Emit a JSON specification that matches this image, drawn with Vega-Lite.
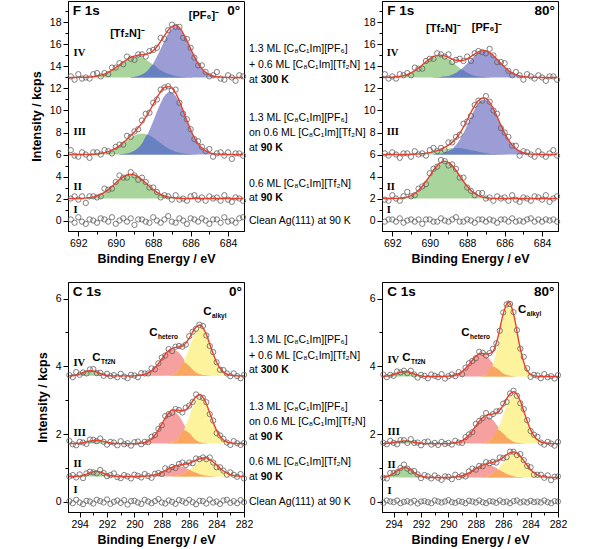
{
"$schema":"https://vega.github.io/schema/vega-lite/v6.json",
"padding":{"left":29,"top":0,"right":2,"bottom":0},
"background":"white",
"config":{
"view":{"stroke":"#000","strokeWidth":1},
"font":"Liberation Sans",
"axis":{"labelFont":"Liberation Sans","labelFontSize":10.5,"labelColor":"#000","labelFlush":false,"titleFont":"Liberation Sans","titleFontSize":12.5,"titleFontWeight":"bold","titleColor":"#000","tickColor":"#000","domainColor":"#000","grid":false,"tickSize":5,"labelPadding":2},
"axisX":{"titlePadding":4},
"axisY":{"titlePadding":6},
"text":{"color":"#000"}
},
"datasets":{
"pTL":[
{"e":692.4,"I":0.1,"II":2.0,"III":6.4,"IV":13.1},{"e":692.2,"I":-0.2,"II":2.2,"III":5.9,"IV":12.8},{"e":692.0,"I":0.3,"II":1.9,"III":5.8,"IV":13.3},{"e":691.8,"I":-0.1,"II":2.2,"III":6.2,"IV":12.9},{"e":691.6,"I":-0.3,"II":1.6,"III":6.0,"IV":13.0},{"e":691.4,"I":0.1,"II":2.2,"III":5.7,"IV":12.9},{"e":691.2,"I":0,"II":2.2,"III":6.2,"IV":13.3},{"e":691.0,"I":-0.2,"II":2.1,"III":6.2,"IV":13.4},{"e":690.8,"I":0.2,"II":2.2,"III":6.0,"IV":13.1},{"e":690.6,"I":0.1,"II":2.9,"III":6.4,"IV":13.4},{"e":690.4,"I":-0.1,"II":2.8,"III":6.3,"IV":13.3},{"e":690.2,"I":0.3,"II":2.9,"III":6.1,"IV":13.9},{"e":690.0,"I":-0.3,"II":3.5,"III":6.7,"IV":13.9},{"e":689.8,"I":0,"II":4.1,"III":6.9,"IV":14.3},{"e":689.6,"I":0.2,"II":3.9,"III":6.9,"IV":14.2},{"e":689.4,"I":-0.1,"II":3.9,"III":7.7,"IV":14.9},{"e":689.2,"I":0.2,"II":4.4,"III":7.6,"IV":14.7},{"e":689.0,"I":-0.4,"II":4.1,"III":8.1,"IV":14.6},{"e":688.8,"I":0.1,"II":3.7,"III":8.3,"IV":15.1},{"e":688.6,"I":0.1,"II":3.9,"III":9.1,"IV":15.1},{"e":688.4,"I":-0.1,"II":3.5,"III":9.7,"IV":14.9},{"e":688.2,"I":-0.2,"II":3.0,"III":9.8,"IV":15.4},{"e":688.0,"I":0.3,"II":3.0,"III":10.7,"IV":15.5},{"e":687.8,"I":0,"II":2.6,"III":11.0,"IV":15.7},{"e":687.6,"I":-0.2,"II":2.1,"III":11.9,"IV":16.6},{"e":687.4,"I":0.1,"II":2.3,"III":12.1,"IV":16.5},{"e":687.2,"I":0.4,"II":2.2,"III":12.2,"IV":17.3},{"e":687.0,"I":-0.1,"II":1.9,"III":11.8,"IV":17.8},{"e":686.8,"I":-0.2,"II":2.3,"III":11.9,"IV":17.6},{"e":686.6,"I":0.2,"II":1.9,"III":10.7,"IV":17.6},{"e":686.4,"I":0,"II":2.0,"III":9.7,"IV":16.6},{"e":686.2,"I":-0.3,"II":1.8,"III":9.2,"IV":16.5},{"e":686.0,"I":0.2,"II":2.2,"III":8.3,"IV":15.7},{"e":685.8,"I":0.1,"II":2.3,"III":7.4,"IV":14.8},{"e":685.6,"I":-0.1,"II":1.9,"III":7.2,"IV":14.1},{"e":685.4,"I":0.2,"II":2.1,"III":6.7,"IV":14.1},{"e":685.2,"I":0,"II":1.8,"III":6.3,"IV":13.5},{"e":685.0,"I":-0.3,"II":2.2,"III":6.5,"IV":13.1},{"e":684.8,"I":0.1,"II":2.0,"III":5.8,"IV":13.2},{"e":684.6,"I":0.1,"II":2.1,"III":6.1,"IV":13.5},{"e":684.4,"I":-0.2,"II":1.8,"III":6.2,"IV":12.9},{"e":684.2,"I":0.3,"II":2.3,"III":5.9,"IV":12.8},{"e":684.0,"I":-0.1,"II":1.9,"III":6.2,"IV":13.2},{"e":683.8,"I":0,"II":1.7,"III":5.6,"IV":13.0},{"e":683.6,"I":-0.2,"II":2.1,"III":6.1,"IV":12.7},{"e":683.4,"I":0.2,"II":2.0,"III":6.1,"IV":13.2},{"e":683.2,"I":0.3,"II":1.8,"III":5.9,"IV":13.1}
],
"pTR":[
{"e":692.4,"I":-0.1,"II":1.9,"III":6.1,"IV":13.3},{"e":692.2,"I":0.1,"II":1.8,"III":5.9,"IV":12.9},{"e":692.0,"I":0.1,"II":2.3,"III":6.2,"IV":13.1},{"e":691.8,"I":-0.1,"II":2.0,"III":6.0,"IV":12.9},{"e":691.6,"I":0.2,"II":1.8,"III":5.7,"IV":13.3},{"e":691.4,"I":-0.2,"II":2.2,"III":6.1,"IV":13.2},{"e":691.2,"I":0,"II":2.6,"III":6.1,"IV":13.4},{"e":691.0,"I":0.1,"II":2.2,"III":5.8,"IV":13.2},{"e":690.8,"I":-0.1,"II":2.3,"III":6.3,"IV":13.9},{"e":690.6,"I":0.1,"II":2.9,"III":6.0,"IV":13.8},{"e":690.4,"I":-0.3,"II":3.1,"III":6.1,"IV":13.8},{"e":690.2,"I":0.1,"II":3.3,"III":5.9,"IV":14.5},{"e":690.0,"I":0.1,"II":4.3,"III":6.4,"IV":14.7},{"e":689.8,"I":-0.1,"II":4.7,"III":6.6,"IV":14.7},{"e":689.6,"I":-0.1,"II":4.9,"III":6.3,"IV":15.2},{"e":689.4,"I":0.2,"II":5.5,"III":6.6,"IV":15.1},{"e":689.2,"I":0,"II":5.4,"III":6.4,"IV":14.9},{"e":689.0,"I":-0.1,"II":5.0,"III":7.1,"IV":15.1},{"e":688.8,"I":0.1,"II":5.1,"III":7.1,"IV":14.4},{"e":688.6,"I":0.3,"II":4.7,"III":7.6,"IV":14.6},{"e":688.4,"I":-0.1,"II":3.9,"III":7.8,"IV":14.7},{"e":688.2,"I":-0.1,"II":3.9,"III":8.8,"IV":14.5},{"e":688.0,"I":0.1,"II":3.0,"III":9.0,"IV":14.9},{"e":687.8,"I":0,"II":2.7,"III":9.5,"IV":14.5},{"e":687.6,"I":-0.2,"II":2.3,"III":10.5,"IV":15.2},{"e":687.4,"I":0.1,"II":2.5,"III":10.9,"IV":15.4},{"e":687.2,"I":0.1,"II":2.5,"III":10.9,"IV":15.3},{"e":687.0,"I":-0.1,"II":2.0,"III":11.3,"IV":15.2},{"e":686.8,"I":0.1,"II":2.1,"III":10.8,"IV":15.6},{"e":686.6,"I":0,"II":1.8,"III":10.0,"IV":15.0},{"e":686.4,"I":-0.2,"II":2.2,"III":9.7,"IV":14.4},{"e":686.2,"I":0.1,"II":2.0,"III":8.4,"IV":14.4},{"e":686.0,"I":0.1,"II":2.1,"III":8.0,"IV":14.3},{"e":685.8,"I":-0.1,"II":1.8,"III":7.6,"IV":13.6},{"e":685.6,"I":0.2,"II":2.3,"III":6.8,"IV":13.2},{"e":685.4,"I":-0.1,"II":1.9,"III":6.8,"IV":13.5},{"e":685.2,"I":0,"II":1.7,"III":5.9,"IV":13.2},{"e":685.0,"I":-0.1,"II":2.1,"III":6.3,"IV":12.8},{"e":684.8,"I":0.1,"II":2.0,"III":6.2,"IV":13.3},{"e":684.6,"I":0.2,"II":1.8,"III":6.0,"IV":13.1},{"e":684.4,"I":-0.1,"II":2.2,"III":5.8,"IV":12.9},{"e":684.2,"I":0.1,"II":2.1,"III":6.3,"IV":13.2},{"e":684.0,"I":-0.1,"II":1.9,"III":6.0,"IV":13.0},{"e":683.8,"I":0.1,"II":2.3,"III":5.8,"IV":12.7},{"e":683.6,"I":0,"II":1.7,"III":6.1,"IV":13.1},{"e":683.4,"I":0.1,"II":2.0,"III":6.4,"IV":13.1},{"e":683.2,"I":-0.1,"II":2.2,"III":5.9,"IV":12.8}
],
"pBL":[
{"e":294.75,"I":0.02,"II":0.75,"III":1.8,"IV":3.74},{"e":294.5,"I":-0.04,"II":0.79,"III":1.7,"IV":3.68},{"e":294.25,"I":0.06,"II":0.72,"III":1.67,"IV":3.83},{"e":294,"I":-0.02,"II":0.81,"III":1.77,"IV":3.75},{"e":293.75,"I":-0.07,"II":0.7,"III":1.75,"IV":3.82},{"e":293.5,"I":0.03,"II":0.84,"III":1.71,"IV":3.79},{"e":293.25,"I":0.01,"II":0.89,"III":1.84,"IV":3.91},{"e":293,"I":-0.05,"II":0.87,"III":1.83,"IV":3.92},{"e":292.75,"I":0.06,"II":0.84,"III":1.79,"IV":3.8},{"e":292.5,"I":0.02,"II":0.94,"III":1.87,"IV":3.81},{"e":292.25,"I":-0.02,"II":0.85,"III":1.77,"IV":3.72},{"e":292,"I":0.07,"II":0.76,"III":1.69,"IV":3.78},{"e":291.75,"I":-0.06,"II":0.79,"III":1.77,"IV":3.71},{"e":291.5,"I":0,"II":0.84,"III":1.75,"IV":3.74},{"e":291.25,"I":0.04,"II":0.73,"III":1.67,"IV":3.68},{"e":291,"I":-0.03,"II":0.7,"III":1.79,"IV":3.78},{"e":290.75,"I":0.05,"II":0.79,"III":1.7,"IV":3.7},{"e":290.5,"I":-0.08,"II":0.75,"III":1.73,"IV":3.65},{"e":290.25,"I":0.02,"II":0.69,"III":1.66,"IV":3.75},{"e":290,"I":0.03,"II":0.8,"III":1.76,"IV":3.73},{"e":289.75,"I":-0.02,"II":0.77,"III":1.78,"IV":3.68},{"e":289.5,"I":-0.06,"II":0.72,"III":1.7,"IV":3.8},{"e":289.25,"I":0.06,"II":0.82,"III":1.77,"IV":3.79},{"e":289,"I":0.01,"II":0.76,"III":1.76,"IV":3.79},{"e":288.75,"I":-0.04,"II":0.71,"III":1.92,"IV":3.94},{"e":288.5,"I":0.02,"II":0.83,"III":1.97,"IV":3.91},{"e":288.25,"I":0.08,"II":0.85,"III":2.15,"IV":4.09},{"e":288,"I":-0.02,"II":0.82,"III":2.26,"IV":4.26},{"e":287.75,"I":-0.05,"II":0.99,"III":2.53,"IV":4.32},{"e":287.5,"I":0.04,"II":0.95,"III":2.59,"IV":4.51},{"e":287.25,"I":0,"II":1.03,"III":2.63,"IV":4.45},{"e":287,"I":-0.06,"II":1.0,"III":2.74,"IV":4.58},{"e":286.75,"I":0.05,"II":1.12,"III":2.71,"IV":4.6},{"e":286.5,"I":0.02,"II":1.16,"III":2.64,"IV":4.58},{"e":286.25,"I":-0.03,"II":1.09,"III":2.78,"IV":4.64},{"e":286,"I":0.06,"II":1.16,"III":2.84,"IV":4.89},{"e":285.75,"I":-0.01,"II":1.14,"III":2.95,"IV":5.02},{"e":285.5,"I":-0.07,"II":1.28,"III":3.17,"IV":5.11},{"e":285.25,"I":0.03,"II":1.26,"III":3.1,"IV":5.23},{"e":285,"I":0.02,"II":1.31,"III":3.07,"IV":5.19},{"e":284.75,"I":-0.05,"II":1.26,"III":2.94,"IV":4.91},{"e":284.5,"I":0.07,"II":1.31,"III":2.59,"IV":4.6},{"e":284.25,"I":-0.02,"II":1.16,"III":2.4,"IV":4.42},{"e":284,"I":0.01,"II":1.02,"III":2.03,"IV":4.12},{"e":283.75,"I":-0.06,"II":1.02,"III":1.96,"IV":3.9},{"e":283.5,"I":0.04,"II":0.92,"III":1.86,"IV":3.89},{"e":283.25,"I":0.06,"II":0.8,"III":1.75,"IV":3.79},{"e":283,"I":-0.03,"II":0.87,"III":1.68,"IV":3.71},{"e":282.75,"I":0.02,"II":0.8,"III":1.79,"IV":3.79},{"e":282.5,"I":-0.04,"II":0.74,"III":1.73,"IV":3.71},{"e":282.25,"I":0.05,"II":0.82,"III":1.68,"IV":3.65},{"e":282,"I":-0.01,"II":0.69,"III":1.74,"IV":3.75}
],
"pBR":[
{"e":294.75,"I":-0.03,"II":0.71,"III":1.74,"IV":3.76},{"e":294.5,"I":0.04,"II":0.69,"III":1.7,"IV":3.68},{"e":294.25,"I":0.01,"II":0.85,"III":1.8,"IV":3.75},{"e":294,"I":-0.01,"II":0.85,"III":1.74,"IV":3.72},{"e":293.75,"I":0.04,"II":0.87,"III":1.7,"IV":3.85},{"e":293.5,"I":-0.04,"II":1.0,"III":1.82,"IV":3.82},{"e":293.25,"I":0,"II":1.1,"III":1.82,"IV":3.87},{"e":293,"I":0.02,"II":0.98,"III":1.74,"IV":3.8},{"e":292.75,"I":-0.02,"II":0.9,"III":1.85,"IV":3.87},{"e":292.5,"I":0.03,"II":0.91,"III":1.74,"IV":3.76},{"e":292.25,"I":-0.05,"II":0.81,"III":1.75,"IV":3.67},{"e":292,"I":0.01,"II":0.7,"III":1.67,"IV":3.75},{"e":291.75,"I":0.02,"II":0.79,"III":1.76,"IV":3.72},{"e":291.5,"I":-0.01,"II":0.75,"III":1.78,"IV":3.65},{"e":291.25,"I":-0.04,"II":0.69,"III":1.69,"IV":3.76},{"e":291,"I":0.04,"II":0.78,"III":1.74,"IV":3.72},{"e":290.75,"I":0.01,"II":0.71,"III":1.68,"IV":3.68},{"e":290.5,"I":-0.02,"II":0.65,"III":1.77,"IV":3.77},{"e":290.25,"I":0.01,"II":0.75,"III":1.71,"IV":3.64},{"e":290,"I":0.05,"II":0.74,"III":1.74,"IV":3.71},{"e":289.75,"I":-0.01,"II":0.67,"III":1.69,"IV":3.76},{"e":289.5,"I":-0.03,"II":0.8,"III":1.8,"IV":3.71},{"e":289.25,"I":0.02,"II":0.73,"III":1.75,"IV":3.83},{"e":289,"I":0,"II":0.78,"III":1.74,"IV":3.77},{"e":288.75,"I":-0.04,"II":0.75,"III":1.91,"IV":3.96},{"e":288.5,"I":0.03,"II":0.9,"III":1.99,"IV":4.09},{"e":288.25,"I":0.01,"II":0.98,"III":2.06,"IV":4.16},{"e":288,"I":-0.02,"II":0.95,"III":2.3,"IV":4.24},{"e":287.75,"I":0.04,"II":1.06,"III":2.39,"IV":4.43},{"e":287.5,"I":-0.01,"II":1.05,"III":2.47,"IV":4.4},{"e":287.25,"I":-0.04,"II":1.17,"III":2.62,"IV":4.32},{"e":287,"I":0.02,"II":1.14,"III":2.52,"IV":4.39},{"e":286.75,"I":0.01,"II":1.18,"III":2.59,"IV":4.52},{"e":286.5,"I":-0.03,"II":1.16,"III":2.67,"IV":4.68},{"e":286.25,"I":0.04,"II":1.31,"III":2.69,"IV":5.05},{"e":286,"I":-0.01,"II":1.29,"III":2.9,"IV":5.59},{"e":285.75,"I":0.01,"II":1.32,"III":2.95,"IV":5.83},{"e":285.5,"I":-0.04,"II":1.48,"III":3.2,"IV":5.84},{"e":285.25,"I":0.02,"II":1.48,"III":3.28,"IV":5.6},{"e":285,"I":0.04,"II":1.38,"III":3.13,"IV":5.07},{"e":284.75,"I":-0.02,"II":1.41,"III":2.91,"IV":4.52},{"e":284.5,"I":0.01,"II":1.23,"III":2.74,"IV":4.28},{"e":284.25,"I":-0.02,"II":1.06,"III":2.41,"IV":3.94},{"e":284,"I":0.03,"II":1.02,"III":2.09,"IV":3.69},{"e":283.75,"I":-0.01,"II":0.8,"III":1.98,"IV":3.75},{"e":283.5,"I":0.01,"II":0.8,"III":1.92,"IV":3.73},{"e":283.25,"I":-0.02,"II":0.8,"III":1.75,"IV":3.65},{"e":283,"I":0.04,"II":0.71,"III":1.69,"IV":3.77},{"e":282.75,"I":-0.01,"II":0.78,"III":1.77,"IV":3.68},{"e":282.5,"I":-0.04,"II":0.64,"III":1.72,"IV":3.71},{"e":282.25,"I":0.02,"II":0.74,"III":1.66,"IV":3.64},{"e":282,"I":0.01,"II":0.75,"III":1.77,"IV":3.74}
],
"fTL":[
{"s":"II","e":692.5,"b":2,"f":2},{"s":"II","e":692.2,"b":2,"f":2},{"s":"II","e":691.9,"b":2,"f":2.01,"g":2.01},{"s":"II","e":691.6,"b":2,"f":2.04,"g":2.04},{"s":"II","e":691.3,"b":2,"f":2.1,"g":2.1},{"s":"II","e":691,"b":2,"f":2.23,"g":2.23},{"s":"II","e":690.7,"b":2,"f":2.46,"g":2.46},{"s":"II","e":690.4,"b":2,"f":2.81,"g":2.81},{"s":"II","e":690.1,"b":2,"f":3.26,"g":3.26},{"s":"II","e":689.8,"b":2,"f":3.72,"g":3.72},{"s":"II","e":689.5,"b":2,"f":4.07,"g":4.07},{"s":"II","e":689.2,"b":2,"f":4.2,"g":4.2},{"s":"II","e":688.9,"b":2,"f":4.07,"g":4.07},{"s":"II","e":688.6,"b":2,"f":3.72,"g":3.72},{"s":"II","e":688.3,"b":2,"f":3.26,"g":3.26},{"s":"II","e":688,"b":2,"f":2.81,"g":2.81},{"s":"II","e":687.7,"b":2,"f":2.46,"g":2.46},{"s":"II","e":687.4,"b":2,"f":2.23,"g":2.23},{"s":"II","e":687.1,"b":2,"f":2.1,"g":2.1},{"s":"II","e":686.8,"b":2,"f":2.04,"g":2.04},{"s":"II","e":686.5,"b":2,"f":2.01,"g":2.01},{"s":"II","e":686.2,"b":2,"f":2},{"s":"II","e":683.2,"b":2,"f":2},
{"s":"III","e":692.5,"b":6,"f":6},{"s":"III","e":691.9,"b":6,"f":6},{"s":"III","e":691.6,"b":6,"f":6.01,"g":6.01},{"s":"III","e":691.3,"b":6,"f":6.02,"g":6.02},{"s":"III","e":691,"b":6,"f":6.06,"g":6.06},{"s":"III","e":690.7,"b":6,"f":6.13,"g":6.13},{"s":"III","e":690.4,"b":6,"f":6.26,"g":6.26},{"s":"III","e":690.1,"b":6,"f":6.48,"g":6.47},{"s":"III","e":689.8,"b":6,"f":6.8,"g":6.78,"u":6.02,"o":6.02},{"s":"III","e":689.5,"b":6,"f":7.22,"g":7.15,"u":6.06,"o":6.06},{"s":"III","e":689.2,"b":6,"f":7.7,"g":7.52,"u":6.18,"o":6.18},{"s":"III","e":688.9,"b":6,"f":8.25,"g":7.8,"u":6.46,"o":6.46},{"s":"III","e":688.6,"b":6,"f":8.88,"g":7.9,"u":6.98,"o":6.98},{"s":"III","e":688.3,"b":6,"f":9.65,"g":7.8,"u":7.85,"o":7.8},{"s":"III","e":688,"b":6,"f":10.55,"g":7.52,"u":9.03,"o":7.52},{"s":"III","e":687.7,"b":6,"f":11.46,"g":7.15,"u":10.3,"o":7.15},{"s":"III","e":687.4,"b":6,"f":12.09,"g":6.78,"u":11.31,"o":6.78},{"s":"III","e":687.1,"b":6,"f":12.17,"g":6.47,"u":11.7,"o":6.47},{"s":"III","e":686.8,"b":6,"f":11.57,"g":6.26,"u":11.31,"o":6.26},{"s":"III","e":686.5,"b":6,"f":10.43,"g":6.13,"u":10.3,"o":6.13},{"s":"III","e":686.2,"b":6,"f":9.08,"g":6.06,"u":9.03,"o":6.06},{"s":"III","e":685.9,"b":6,"f":7.87,"g":6.02,"u":7.85,"o":6.02},{"s":"III","e":685.6,"b":6,"f":6.99,"g":6.01,"u":6.98,"o":6.01},{"s":"III","e":685.3,"b":6,"f":6.46,"u":6.46},{"s":"III","e":685,"b":6,"f":6.18,"u":6.18},{"s":"III","e":684.7,"b":6,"f":6.06,"u":6.06},{"s":"III","e":684.4,"b":6,"f":6.02,"u":6.02},{"s":"III","e":684.1,"b":6,"f":6},{"s":"III","e":683.2,"b":6,"f":6},
{"s":"IV","e":692.5,"b":13,"f":13},{"s":"IV","e":692.2,"b":13,"f":13},{"s":"IV","e":691.9,"b":13,"f":13.01,"g":13.01},{"s":"IV","e":691.6,"b":13,"f":13.02,"g":13.02},{"s":"IV","e":691.3,"b":13,"f":13.06,"g":13.06},{"s":"IV","e":691,"b":13,"f":13.13,"g":13.13},{"s":"IV","e":690.7,"b":13,"f":13.26,"g":13.26},{"s":"IV","e":690.4,"b":13,"f":13.47,"g":13.47},{"s":"IV","e":690.1,"b":13,"f":13.78,"g":13.78},{"s":"IV","e":689.8,"b":13,"f":14.15,"g":14.15},{"s":"IV","e":689.5,"b":13,"f":14.52,"g":14.52},{"s":"IV","e":689.2,"b":13,"f":14.83,"g":14.8,"u":13.03,"o":13.03},{"s":"IV","e":688.9,"b":13,"f":14.99,"g":14.9,"u":13.09,"o":13.09},{"s":"IV","e":688.6,"b":13,"f":15.06,"g":14.8,"u":13.26,"o":13.26},{"s":"IV","e":688.3,"b":13,"f":15.14,"g":14.52,"u":13.62,"o":13.62},{"s":"IV","e":688,"b":13,"f":15.43,"g":14.15,"u":14.28,"o":14.15},{"s":"IV","e":687.7,"b":13,"f":16.02,"g":13.78,"u":15.24,"o":13.78},{"s":"IV","e":687.4,"b":13,"f":16.81,"g":13.47,"u":16.34,"o":13.47},{"s":"IV","e":687.1,"b":13,"f":17.5,"g":13.26,"u":17.25,"o":13.26},{"s":"IV","e":686.8,"b":13,"f":17.73,"g":13.13,"u":17.6,"o":13.13},{"s":"IV","e":686.5,"b":13,"f":17.3,"g":13.06,"u":17.25,"o":13.06},{"s":"IV","e":686.2,"b":13,"f":16.36,"g":13.02,"u":16.34,"o":13.02},{"s":"IV","e":685.9,"b":13,"f":15.25,"g":13.01,"u":15.24,"o":13.01},{"s":"IV","e":685.6,"b":13,"f":14.28,"u":14.28},{"s":"IV","e":685.3,"b":13,"f":13.62,"u":13.62},{"s":"IV","e":685,"b":13,"f":13.26,"u":13.26},{"s":"IV","e":684.7,"b":13,"f":13.09,"u":13.09},{"s":"IV","e":684.4,"b":13,"f":13.03,"u":13.03},{"s":"IV","e":684.1,"b":13,"f":13.01,"u":13.01},{"s":"IV","e":683.8,"b":13,"f":13},{"s":"IV","e":683.2,"b":13,"f":13}
],
"fTR":[
{"s":"II","e":692.5,"b":2,"f":2},{"s":"II","e":692.2,"b":2,"f":2},{"s":"II","e":691.9,"b":2,"f":2.01,"g":2.01},{"s":"II","e":691.6,"b":2,"f":2.04,"g":2.04},{"s":"II","e":691.3,"b":2,"f":2.11,"g":2.11},{"s":"II","e":691,"b":2,"f":2.27,"g":2.27},{"s":"II","e":690.7,"b":2,"f":2.59,"g":2.59},{"s":"II","e":690.4,"b":2,"f":3.11,"g":3.11},{"s":"II","e":690.1,"b":2,"f":3.81,"g":3.81},{"s":"II","e":689.8,"b":2,"f":4.57,"g":4.57},{"s":"II","e":689.5,"b":2,"f":5.17,"g":5.17},{"s":"II","e":689.2,"b":2,"f":5.4,"g":5.4},{"s":"II","e":688.9,"b":2,"f":5.17,"g":5.17},{"s":"II","e":688.6,"b":2,"f":4.57,"g":4.57},{"s":"II","e":688.3,"b":2,"f":3.81,"g":3.81},{"s":"II","e":688,"b":2,"f":3.11,"g":3.11},{"s":"II","e":687.7,"b":2,"f":2.59,"g":2.59},{"s":"II","e":687.4,"b":2,"f":2.27,"g":2.27},{"s":"II","e":687.1,"b":2,"f":2.11,"g":2.11},{"s":"II","e":686.8,"b":2,"f":2.04,"g":2.04},{"s":"II","e":686.5,"b":2,"f":2.01,"g":2.01},{"s":"II","e":686.2,"b":2,"f":2},{"s":"II","e":683.2,"b":2,"f":2},
{"s":"III","e":692.5,"b":6,"f":6},{"s":"III","e":691.6,"b":6,"f":6},{"s":"III","e":691.3,"b":6,"f":6.01,"g":6.01},{"s":"III","e":691,"b":6,"f":6.02,"g":6.02},{"s":"III","e":690.7,"b":6,"f":6.04,"g":6.04},{"s":"III","e":690.4,"b":6,"f":6.08,"g":6.08},{"s":"III","e":690.1,"b":6,"f":6.15,"g":6.15},{"s":"III","e":689.8,"b":6,"f":6.26,"g":6.25,"u":6.02,"o":6.02},{"s":"III","e":689.5,"b":6,"f":6.42,"g":6.36,"u":6.06,"o":6.06},{"s":"III","e":689.2,"b":6,"f":6.64,"g":6.48,"u":6.16,"o":6.16},{"s":"III","e":688.9,"b":6,"f":6.97,"g":6.57,"u":6.4,"o":6.4},{"s":"III","e":688.6,"b":6,"f":7.46,"g":6.6,"u":6.86,"o":6.6},{"s":"III","e":688.3,"b":6,"f":8.19,"g":6.57,"u":7.63,"o":6.57},{"s":"III","e":688,"b":6,"f":9.14,"g":6.48,"u":8.66,"o":6.48},{"s":"III","e":687.7,"b":6,"f":10.14,"g":6.36,"u":9.78,"o":6.36},{"s":"III","e":687.4,"b":6,"f":10.91,"g":6.25,"u":10.66,"o":6.25},{"s":"III","e":687.1,"b":6,"f":11.15,"g":6.15,"u":11,"o":6.15},{"s":"III","e":686.8,"b":6,"f":10.74,"g":6.08,"u":10.66,"o":6.08},{"s":"III","e":686.5,"b":6,"f":9.82,"g":6.04,"u":9.78,"o":6.04},{"s":"III","e":686.2,"b":6,"f":8.67,"g":6.02,"u":8.66,"o":6.02},{"s":"III","e":685.9,"b":6,"f":7.63,"g":6.01,"u":7.63,"o":6.01},{"s":"III","e":685.6,"b":6,"f":6.86,"u":6.86},{"s":"III","e":685.3,"b":6,"f":6.4,"u":6.4},{"s":"III","e":685,"b":6,"f":6.16,"u":6.16},{"s":"III","e":684.7,"b":6,"f":6.06,"u":6.06},{"s":"III","e":684.4,"b":6,"f":6.02,"u":6.02},{"s":"III","e":684.1,"b":6,"f":6},{"s":"III","e":683.2,"b":6,"f":6},
{"s":"IV","e":692.5,"b":13,"f":13},{"s":"IV","e":692.2,"b":13,"f":13.01,"g":13.01},{"s":"IV","e":691.9,"b":13,"f":13.04,"g":13.04},{"s":"IV","e":691.6,"b":13,"f":13.09,"g":13.09},{"s":"IV","e":691.3,"b":13,"f":13.21,"g":13.21},{"s":"IV","e":691,"b":13,"f":13.42,"g":13.42},{"s":"IV","e":690.7,"b":13,"f":13.74,"g":13.74},{"s":"IV","e":690.4,"b":13,"f":14.14,"g":14.14},{"s":"IV","e":690.1,"b":13,"f":14.56,"g":14.56},{"s":"IV","e":689.8,"b":13,"f":14.89,"g":14.88,"u":13.01,"o":13.01},{"s":"IV","e":689.5,"b":13,"f":15.03,"g":15,"u":13.03,"o":13.03},{"s":"IV","e":689.2,"b":13,"f":14.96,"g":14.88,"u":13.08,"o":13.08},{"s":"IV","e":688.9,"b":13,"f":14.75,"g":14.56,"u":13.19,"o":13.19},{"s":"IV","e":688.6,"b":13,"f":14.56,"g":14.14,"u":13.41,"o":13.41},{"s":"IV","e":688.3,"b":13,"f":14.52,"g":13.74,"u":13.78,"o":13.74},{"s":"IV","e":688,"b":13,"f":14.7,"g":13.42,"u":14.27,"o":13.42},{"s":"IV","e":687.7,"b":13,"f":15.02,"g":13.21,"u":14.81,"o":13.21},{"s":"IV","e":687.4,"b":13,"f":15.33,"g":13.09,"u":15.24,"o":13.09},{"s":"IV","e":687.1,"b":13,"f":15.44,"g":13.04,"u":15.4,"o":13.04},{"s":"IV","e":686.8,"b":13,"f":15.25,"g":13.01,"u":15.24,"o":13.01},{"s":"IV","e":686.5,"b":13,"f":14.82,"u":14.81},{"s":"IV","e":686.2,"b":13,"f":14.27,"u":14.27},{"s":"IV","e":685.9,"b":13,"f":13.78,"u":13.78},{"s":"IV","e":685.6,"b":13,"f":13.41,"u":13.41},{"s":"IV","e":685.3,"b":13,"f":13.19,"u":13.19},{"s":"IV","e":685,"b":13,"f":13.08,"u":13.08},{"s":"IV","e":684.7,"b":13,"f":13.03,"u":13.03},{"s":"IV","e":684.4,"b":13,"f":13.01,"u":13.01},{"s":"IV","e":684.1,"b":13,"f":13},{"s":"IV","e":683.2,"b":13,"f":13}
],
"fBL":[
{"s":"II","e":294.8,"b":0.75,"f":0.75},{"s":"II","e":294.4,"b":0.75,"f":0.75},{"s":"II","e":294,"b":0.75,"f":0.76,"g":0.76},{"s":"II","e":293.6,"b":0.75,"f":0.8,"g":0.8},{"s":"II","e":293.2,"b":0.75,"f":0.87,"g":0.87},{"s":"II","e":292.8,"b":0.75,"f":0.9,"g":0.9},{"s":"II","e":292.4,"b":0.75,"f":0.87,"g":0.87},{"s":"II","e":292,"b":0.75,"f":0.8,"g":0.8},{"s":"II","e":291.6,"b":0.75,"f":0.76,"g":0.76},{"s":"II","e":291.2,"b":0.75,"f":0.75},{"s":"II","e":289.6,"b":0.75,"f":0.75,"h":0.75},{"s":"II","e":289.2,"b":0.75,"f":0.76,"h":0.76},{"s":"II","e":288.8,"b":0.75,"f":0.78,"h":0.78},{"s":"II","e":288.4,"b":0.75,"f":0.81,"h":0.81},{"s":"II","e":288,"b":0.75,"f":0.87,"h":0.87},{"s":"II","e":287.6,"b":0.75,"f":0.95,"h":0.95,"a":0.75},{"s":"II","e":287.2,"b":0.75,"f":1.03,"h":1.02,"a":0.76,"o":0.76},{"s":"II","e":286.8,"b":0.75,"f":1.08,"h":1.05,"a":0.78,"o":0.78},{"s":"II","e":286.4,"b":0.75,"f":1.11,"h":1.02,"a":0.84,"o":0.84},{"s":"II","e":286,"b":0.75,"f":1.14,"h":0.95,"a":0.94,"o":0.94},{"s":"II","e":285.6,"b":0.75,"f":1.21,"h":0.87,"a":1.08,"o":0.87},{"s":"II","e":285.2,"b":0.75,"f":1.28,"h":0.81,"a":1.22,"o":0.81},{"s":"II","e":284.8,"b":0.75,"f":1.3,"h":0.78,"a":1.27,"o":0.78},{"s":"II","e":284.4,"b":0.75,"f":1.22,"h":0.76,"a":1.22,"o":0.76},{"s":"II","e":284,"b":0.75,"f":1.09,"h":0.75,"a":1.08,"o":0.75},{"s":"II","e":283.6,"b":0.75,"f":0.94,"a":0.94},{"s":"II","e":283.2,"b":0.75,"f":0.84,"a":0.84},{"s":"II","e":282.8,"b":0.75,"f":0.78,"a":0.78},{"s":"II","e":282.4,"b":0.75,"f":0.76,"a":0.76},{"s":"II","e":282,"b":0.75,"f":0.75,"a":0.75},
{"s":"III","e":294.8,"b":1.72,"f":1.72},{"s":"III","e":294.4,"b":1.72,"f":1.72},{"s":"III","e":294,"b":1.72,"f":1.73,"g":1.73},{"s":"III","e":293.6,"b":1.72,"f":1.76,"g":1.76},{"s":"III","e":293.2,"b":1.72,"f":1.8,"g":1.8},{"s":"III","e":292.8,"b":1.72,"f":1.82,"g":1.82},{"s":"III","e":292.4,"b":1.72,"f":1.8,"g":1.8},{"s":"III","e":292,"b":1.72,"f":1.76,"g":1.76},{"s":"III","e":291.6,"b":1.72,"f":1.73,"g":1.73},{"s":"III","e":291.2,"b":1.72,"f":1.72},{"s":"III","e":290,"b":1.72,"f":1.72,"h":1.72},{"s":"III","e":289.6,"b":1.72,"f":1.73,"h":1.73},{"s":"III","e":289.2,"b":1.72,"f":1.76,"h":1.76},{"s":"III","e":288.8,"b":1.72,"f":1.85,"h":1.85},{"s":"III","e":288.4,"b":1.72,"f":2.03,"h":2.03},{"s":"III","e":288,"b":1.72,"f":2.3,"h":2.3,"a":1.72},{"s":"III","e":287.6,"b":1.72,"f":2.57,"h":2.56,"a":1.73,"o":1.73},{"s":"III","e":287.2,"b":1.72,"f":2.71,"h":2.67,"a":1.76,"o":1.76},{"s":"III","e":286.8,"b":1.72,"f":2.7,"h":2.56,"a":1.86,"o":1.86},{"s":"III","e":286.4,"b":1.72,"f":2.69,"h":2.3,"a":2.11,"o":2.11},{"s":"III","e":286,"b":1.72,"f":2.82,"h":2.03,"a":2.51,"o":2.03},{"s":"III","e":285.6,"b":1.72,"f":3.06,"h":1.85,"a":2.93,"o":1.85},{"s":"III","e":285.2,"b":1.72,"f":3.16,"h":1.76,"a":3.12,"o":1.76},{"s":"III","e":284.8,"b":1.72,"f":2.94,"h":1.73,"a":2.93,"o":1.73},{"s":"III","e":284.4,"b":1.72,"f":2.51,"h":1.72,"a":2.51,"o":1.72},{"s":"III","e":284,"b":1.72,"f":2.11,"a":2.11},{"s":"III","e":283.6,"b":1.72,"f":1.86,"a":1.86},{"s":"III","e":283.2,"b":1.72,"f":1.76,"a":1.76},{"s":"III","e":282.8,"b":1.72,"f":1.73,"a":1.73},{"s":"III","e":282.4,"b":1.72,"f":1.72,"a":1.72},{"s":"III","e":282,"b":1.72,"f":1.72},
{"s":"IV","e":294.8,"b":3.72,"f":3.72,"g":3.72},{"s":"IV","e":294.4,"b":3.72,"f":3.73,"g":3.73},{"s":"IV","e":294,"b":3.72,"f":3.77,"g":3.77},{"s":"IV","e":293.6,"b":3.72,"f":3.84,"g":3.84},{"s":"IV","e":293.2,"b":3.72,"f":3.87,"g":3.87},{"s":"IV","e":292.8,"b":3.72,"f":3.84,"g":3.84},{"s":"IV","e":292.4,"b":3.72,"f":3.77,"g":3.77},{"s":"IV","e":292,"b":3.72,"f":3.73,"g":3.73},{"s":"IV","e":291.6,"b":3.72,"f":3.72,"g":3.72},{"s":"IV","e":290,"b":3.72,"f":3.72,"h":3.72},{"s":"IV","e":289.6,"b":3.72,"f":3.74,"h":3.74},{"s":"IV","e":289.2,"b":3.72,"f":3.77,"h":3.77},{"s":"IV","e":288.8,"b":3.72,"f":3.85,"h":3.85},{"s":"IV","e":288.4,"b":3.72,"f":4.01,"h":4.01},{"s":"IV","e":288,"b":3.72,"f":4.22,"h":4.22,"a":3.72},{"s":"IV","e":287.6,"b":3.72,"f":4.43,"h":4.42,"a":3.73,"o":3.73},{"s":"IV","e":287.2,"b":3.72,"f":4.54,"h":4.5,"a":3.76,"o":3.76},{"s":"IV","e":286.8,"b":3.72,"f":4.57,"h":4.42,"a":3.87,"o":3.87},{"s":"IV","e":286.4,"b":3.72,"f":4.62,"h":4.22,"a":4.12,"o":4.12},{"s":"IV","e":286,"b":3.72,"f":4.83,"h":4.01,"a":4.54,"o":4.01},{"s":"IV","e":285.6,"b":3.72,"f":5.11,"h":3.85,"a":4.98,"o":3.85},{"s":"IV","e":285.2,"b":3.72,"f":5.22,"h":3.77,"a":5.17,"o":3.77},{"s":"IV","e":284.8,"b":3.72,"f":4.99,"h":3.74,"a":4.98,"o":3.74},{"s":"IV","e":284.4,"b":3.72,"f":4.54,"h":3.72,"a":4.54,"o":3.72},{"s":"IV","e":284,"b":3.72,"f":4.12,"a":4.12},{"s":"IV","e":283.6,"b":3.72,"f":3.87,"a":3.87},{"s":"IV","e":283.2,"b":3.72,"f":3.76,"a":3.76},{"s":"IV","e":282.8,"b":3.72,"f":3.73,"a":3.73},{"s":"IV","e":282.4,"b":3.72,"f":3.72,"a":3.72},{"s":"IV","e":282,"b":3.72,"f":3.72}
],
"fBR":[
{"s":"II","e":294.8,"b":0.72,"f":0.73,"g":0.73},{"s":"II","e":294.4,"b":0.72,"f":0.76,"g":0.76},{"s":"II","e":294,"b":0.72,"f":0.84,"g":0.84},{"s":"II","e":293.6,"b":0.72,"f":0.96,"g":0.96},{"s":"II","e":293.2,"b":0.72,"f":1.02,"g":1.02},{"s":"II","e":292.8,"b":0.72,"f":0.96,"g":0.96},{"s":"II","e":292.4,"b":0.72,"f":0.84,"g":0.84},{"s":"II","e":292,"b":0.72,"f":0.76,"g":0.76},{"s":"II","e":291.6,"b":0.72,"f":0.73,"g":0.73},{"s":"II","e":291.2,"b":0.72,"f":0.72},{"s":"II","e":290,"b":0.72,"f":0.72,"h":0.72},{"s":"II","e":289.6,"b":0.72,"f":0.73,"h":0.73},{"s":"II","e":289.2,"b":0.72,"f":0.75,"h":0.75},{"s":"II","e":288.8,"b":0.72,"f":0.8,"h":0.8},{"s":"II","e":288.4,"b":0.72,"f":0.88,"h":0.88},{"s":"II","e":288,"b":0.72,"f":0.98,"h":0.98,"a":0.72},{"s":"II","e":287.6,"b":0.72,"f":1.07,"h":1.06,"a":0.73,"o":0.73},{"s":"II","e":287.2,"b":0.72,"f":1.13,"h":1.1,"a":0.75,"o":0.75},{"s":"II","e":286.8,"b":0.72,"f":1.16,"h":1.06,"a":0.82,"o":0.82},{"s":"II","e":286.4,"b":0.72,"f":1.21,"h":0.98,"a":0.95,"o":0.95},{"s":"II","e":286,"b":0.72,"f":1.31,"h":0.88,"a":1.16,"o":0.88},{"s":"II","e":285.6,"b":0.72,"f":1.43,"h":0.8,"a":1.36,"o":0.8},{"s":"II","e":285.2,"b":0.72,"f":1.47,"h":0.75,"a":1.44,"o":0.75},{"s":"II","e":284.8,"b":0.72,"f":1.37,"h":0.73,"a":1.36,"o":0.73},{"s":"II","e":284.4,"b":0.72,"f":1.16,"h":0.72,"a":1.16,"o":0.72},{"s":"II","e":284,"b":0.72,"f":0.95,"a":0.95},{"s":"II","e":283.6,"b":0.72,"f":0.82,"a":0.82},{"s":"II","e":283.2,"b":0.72,"f":0.75,"a":0.75},{"s":"II","e":282.8,"b":0.72,"f":0.73,"a":0.73},{"s":"II","e":282.4,"b":0.72,"f":0.72,"a":0.72},{"s":"II","e":282,"b":0.72,"f":0.72},
{"s":"III","e":294.8,"b":1.72,"f":1.72},{"s":"III","e":294.4,"b":1.72,"f":1.73,"g":1.73},{"s":"III","e":294,"b":1.72,"f":1.75,"g":1.75},{"s":"III","e":293.6,"b":1.72,"f":1.78,"g":1.78},{"s":"III","e":293.2,"b":1.72,"f":1.8,"g":1.8},{"s":"III","e":292.8,"b":1.72,"f":1.78,"g":1.78},{"s":"III","e":292.4,"b":1.72,"f":1.75,"g":1.75},{"s":"III","e":292,"b":1.72,"f":1.73,"g":1.73},{"s":"III","e":291.6,"b":1.72,"f":1.72},{"s":"III","e":290,"b":1.72,"f":1.72,"h":1.72},{"s":"III","e":289.6,"b":1.72,"f":1.74,"h":1.74},{"s":"III","e":289.2,"b":1.72,"f":1.77,"h":1.77},{"s":"III","e":288.8,"b":1.72,"f":1.86,"h":1.86},{"s":"III","e":288.4,"b":1.72,"f":2.02,"h":2.02},{"s":"III","e":288,"b":1.72,"f":2.24,"h":2.23,"a":1.72},{"s":"III","e":287.6,"b":1.72,"f":2.45,"h":2.44,"a":1.73,"o":1.73},{"s":"III","e":287.2,"b":1.72,"f":2.56,"h":2.52,"a":1.76,"o":1.76},{"s":"III","e":286.8,"b":1.72,"f":2.59,"h":2.44,"a":1.87,"o":1.87},{"s":"III","e":286.4,"b":1.72,"f":2.65,"h":2.23,"a":2.13,"o":2.13},{"s":"III","e":286,"b":1.72,"f":2.85,"h":2.02,"a":2.56,"o":2.02},{"s":"III","e":285.6,"b":1.72,"f":3.14,"h":1.86,"a":3,"o":1.86},{"s":"III","e":285.2,"b":1.72,"f":3.25,"h":1.77,"a":3.2,"o":1.77},{"s":"III","e":284.8,"b":1.72,"f":3.02,"h":1.74,"a":3,"o":1.74},{"s":"III","e":284.4,"b":1.72,"f":2.56,"h":1.72,"a":2.56,"o":1.72},{"s":"III","e":284,"b":1.72,"f":2.13,"a":2.13},{"s":"III","e":283.6,"b":1.72,"f":1.87,"a":1.87},{"s":"III","e":283.2,"b":1.72,"f":1.76,"a":1.76},{"s":"III","e":282.8,"b":1.72,"f":1.73,"a":1.73},{"s":"III","e":282.4,"b":1.72,"f":1.72,"a":1.72},{"s":"III","e":282,"b":1.72,"f":1.72},
{"s":"IV","e":294.8,"b":3.7,"f":3.7,"g":3.7},{"s":"IV","e":294.4,"b":3.7,"f":3.72,"g":3.72},{"s":"IV","e":294,"b":3.7,"f":3.76,"g":3.76},{"s":"IV","e":293.6,"b":3.7,"f":3.82,"g":3.82},{"s":"IV","e":293.2,"b":3.7,"f":3.85,"g":3.85},{"s":"IV","e":292.8,"b":3.7,"f":3.82,"g":3.82},{"s":"IV","e":292.4,"b":3.7,"f":3.76,"g":3.76},{"s":"IV","e":292,"b":3.7,"f":3.72,"g":3.72},{"s":"IV","e":291.6,"b":3.7,"f":3.7,"g":3.7},{"s":"IV","e":290.4,"b":3.7,"f":3.7,"h":3.7},{"s":"IV","e":290,"b":3.7,"f":3.71,"h":3.71},{"s":"IV","e":289.6,"b":3.7,"f":3.73,"h":3.73},{"s":"IV","e":289.2,"b":3.7,"f":3.79,"h":3.79},{"s":"IV","e":288.8,"b":3.7,"f":3.92,"h":3.92},{"s":"IV","e":288.4,"b":3.7,"f":4.11,"h":4.11},{"s":"IV","e":288,"b":3.7,"f":4.3,"h":4.3,"a":3.7},{"s":"IV","e":287.6,"b":3.7,"f":4.39,"h":4.38,"a":3.71,"o":3.71},{"s":"IV","e":287.2,"b":3.7,"f":4.36,"h":4.3,"a":3.76,"o":3.76},{"s":"IV","e":286.8,"b":3.7,"f":4.41,"h":4.11,"a":4,"o":4},{"s":"IV","e":286.4,"b":3.7,"f":4.83,"h":3.92,"a":4.6,"o":3.92},{"s":"IV","e":286,"b":3.7,"f":5.55,"h":3.79,"a":5.46,"o":3.79},{"s":"IV","e":285.6,"b":3.7,"f":5.93,"h":3.73,"a":5.9,"o":3.73},{"s":"IV","e":285.2,"b":3.7,"f":5.47,"h":3.71,"a":5.46,"o":3.71},{"s":"IV","e":284.8,"b":3.7,"f":4.61,"h":3.7,"a":4.6,"o":3.7},{"s":"IV","e":284.4,"b":3.7,"f":4,"a":4},{"s":"IV","e":284,"b":3.7,"f":3.76,"a":3.76},{"s":"IV","e":283.6,"b":3.7,"f":3.71,"a":3.71},{"s":"IV","e":283.2,"b":3.7,"f":3.7,"a":3.7},{"s":"IV","e":282,"b":3.7,"f":3.7}
],
"lab":[
{"p":"TL","k":"hd","e":692.3,"y":19,"t":"F 1s"},{"p":"TL","k":"hd","e":684.04,"y":19,"t":"0°"},
{"p":"TL","k":"rn","e":692.25,"y":15.26,"t":"IV"},{"p":"TL","k":"rn","e":692.25,"y":8.05,"t":"III"},{"p":"TL","k":"rn","e":692.25,"y":3.05,"t":"II"},{"p":"TL","k":"rn","e":692.25,"y":0.93,"t":"I"},
{"p":"TL","k":"pk","e":690.3,"y":16.93,"t":"[Tf₂N]⁻"},{"p":"TL","k":"pk","e":686.1,"y":18.6,"t":"[PF₆]⁻"},
{"p":"TR","k":"hd","e":692.27,"y":19,"t":"F 1s"},{"p":"TR","k":"hd","e":684.4,"y":19,"t":"80°"},
{"p":"TR","k":"rn","e":692.3,"y":15.26,"t":"IV"},{"p":"TR","k":"rn","e":692.3,"y":8.05,"t":"III"},{"p":"TR","k":"rn","e":692.3,"y":3.05,"t":"II"},{"p":"TR","k":"rn","e":692.3,"y":0.93,"t":"I"},
{"p":"TR","k":"pk","e":690.2,"y":17.39,"t":"[Tf₂N]⁻"},{"p":"TR","k":"pk","e":687.75,"y":17.48,"t":"[PF₆]⁻"},
{"p":"BL","k":"hd","e":294.5,"y":6.2,"t":"C 1s"},{"p":"BL","k":"hd","e":283.1,"y":6.2,"t":"0°"},
{"p":"BL","k":"rn","e":294.45,"y":4.1,"t":"IV"},{"p":"BL","k":"rn","e":294.45,"y":2.03,"t":"III"},{"p":"BL","k":"rn","e":294.45,"y":1.13,"t":"II"},{"p":"BL","k":"rn","e":294.45,"y":0.36,"t":"I"},
{"p":"BL","k":"c","e":293.08,"y":4.26,"t":"C","sub":"Tf2N"},{"p":"BL","k":"c","e":288.92,"y":4.97,"t":"C","sub":"hetero"},{"p":"BL","k":"c","e":284.98,"y":5.6,"t":"C","sub":"alkyl"},
{"p":"BR","k":"hd","e":294.46,"y":6.2,"t":"C 1s"},{"p":"BR","k":"hd","e":283.75,"y":6.2,"t":"80°"},
{"p":"BR","k":"rn","e":294.45,"y":4.18,"t":"IV"},{"p":"BR","k":"rn","e":294.45,"y":2.06,"t":"III"},{"p":"BR","k":"rn","e":294.45,"y":1.1,"t":"II"},{"p":"BR","k":"rn","e":294.45,"y":0.32,"t":"I"},
{"p":"BR","k":"c","e":293.37,"y":4.26,"t":"C","sub":"Tf2N"},{"p":"BR","k":"c","e":289.06,"y":4.98,"t":"C","sub":"hetero"},{"p":"BR","k":"c","e":284.92,"y":5.66,"t":"C","sub":"alkyl"}
],
"txt":[
{"r":"F","y":15.57,"t":"1.3 ML [C₈C₁Im][PF₆]"},{"r":"F","y":14.17,"t":"+ 0.6 ML [C₈C₁Im][Tf₂N]"},{"r":"F","y":12.8,"t":"at","k":"300 K"},
{"r":"F","y":9.32,"t":"1.3 ML [C₈C₁Im][PF₆]"},{"r":"F","y":7.98,"t":"on 0.6 ML [C₈C₁Im][Tf₂N]"},{"r":"F","y":6.62,"t":"at","k":"90 K"},
{"r":"F","y":3.35,"t":"0.6 ML [C₈C₁Im][Tf₂N]"},{"r":"F","y":2.02,"t":"at","k":"90 K"},{"r":"F","y":-0.04,"t":"Clean Ag(111) at 90 K"},
{"r":"C","y":4.77,"t":"1.3 ML [C₈C₁Im][PF₆]"},{"r":"C","y":4.32,"t":"+ 0.6 ML [C₈C₁Im][Tf₂N]"},{"r":"C","y":3.9,"t":"at","k":"300 K"},
{"r":"C","y":2.8,"t":"1.3 ML [C₈C₁Im][PF₆]"},{"r":"C","y":2.36,"t":"on 0.6 ML [C₈C₁Im][Tf₂N]"},{"r":"C","y":1.91,"t":"at","k":"90 K"},
{"r":"C","y":1.18,"t":"0.6 ML [C₈C₁Im][Tf₂N]"},{"r":"C","y":0.73,"t":"at","k":"90 K"},{"r":"C","y":0,"t":"Clean Ag(111) at 90 K"}
]
},
"columns":3,
"spacing":{"row":51,"column":5},
"bounds":"flush",
"concat":[
{"width":176,"height":230,
 "encoding":{"x":{"field":"e","type":"quantitative","scale":{"domain":[683.15,692.55],"reverse":true,"nice":false,"zero":false},"axis":null}},
 "layer":[
  {"data":{"name":"fTL"},"mark":{"type":"area","color":"#a9d59c","interpolate":"monotone"},"encoding":{"y":{"field":"g","type":"quantitative","scale":{"domain":[-0.95,19.95],"nice":false,"zero":false},"axis":null},"y2":{"field":"b"},"detail":{"field":"s"}}},
  {"data":{"name":"fTL"},"mark":{"type":"area","color":"#9c9dd4","interpolate":"monotone"},"encoding":{"y":{"field":"u","type":"quantitative","scale":{"domain":[-0.95,19.95],"nice":false,"zero":false},"axis":null},"y2":{"field":"b"},"detail":{"field":"s"}}},
  {"data":{"name":"fTL"},"mark":{"type":"area","color":"#6781c2","interpolate":"monotone"},"encoding":{"y":{"field":"o","type":"quantitative","scale":{"domain":[-0.95,19.95],"nice":false,"zero":false},"axis":null},"y2":{"field":"b"},"detail":{"field":"s"}}},
  {"data":{"name":"pTL"},"transform":[{"fold":["I","II","III","IV"],"as":["s","v"]}],"mark":{"type":"point","shape":"circle","filled":false,"stroke":"#5f5f5f","strokeWidth":0.8,"size":28,"opacity":1},
   "encoding":{"x":{"field":"e","type":"quantitative","scale":{"domain":[683.15,692.55],"reverse":true,"nice":false,"zero":false},"axis":{"values":[684,686,688,690,692],"title":"Binding Energy / eV","orient":"bottom"}},
   "y":{"field":"v","type":"quantitative","scale":{"domain":[-0.95,19.95],"nice":false,"zero":false},"axis":{"values":[0,2,4,6,8,10,12,14,16,18],"title":"Intensity / kcps","orient":"left"}},"detail":{"field":"s"}}},
  {"data":{"name":"fTL"},"mark":{"type":"line","color":"#e4412e","strokeWidth":1.4,"interpolate":"monotone"},
   "encoding":{"x":{"field":"e","type":"quantitative","scale":{"domain":[683.15,692.55],"reverse":true,"nice":false,"zero":false},"axis":{"values":[685,687,689,691],"labels":false,"tickSize":3,"domain":false,"title":null,"orient":"bottom"}},
   "y":{"field":"f","type":"quantitative","scale":{"domain":[-0.95,19.95],"nice":false,"zero":false},"axis":{"values":[1,3,5,7,9,11,13,15,17,19],"labels":false,"tickSize":3,"domain":false,"title":null,"orient":"left"}},"detail":{"field":"s"}}},
  {"data":{"name":"lab"},"transform":[{"filter":"datum.p=='TL' && datum.k=='hd'"}],"mark":{"type":"text","align":"left","baseline":"middle","font":"Liberation Sans","fontWeight":"bold","fontSize":13.5},"encoding":{"y":{"field":"y","type":"quantitative","scale":{"domain":[-0.95,19.95],"nice":false,"zero":false},"axis":null},"text":{"field":"t"}}},
  {"data":{"name":"lab"},"transform":[{"filter":"datum.p=='TL' && datum.k=='rn'"}],"mark":{"type":"text","align":"left","baseline":"middle","font":"Liberation Serif","fontWeight":"bold","fontSize":10.5},"encoding":{"y":{"field":"y","type":"quantitative","scale":{"domain":[-0.95,19.95],"nice":false,"zero":false},"axis":null},"text":{"field":"t"}}},
  {"data":{"name":"lab"},"transform":[{"filter":"datum.p=='TL' && datum.k=='pk'"}],"mark":{"type":"text","align":"left","baseline":"middle","font":"Liberation Sans","fontWeight":"bold","fontSize":11},"encoding":{"y":{"field":"y","type":"quantitative","scale":{"domain":[-0.95,19.95],"nice":false,"zero":false},"axis":null},"text":{"field":"t"}}}
 ],
 "resolve":{"axis":{"x":"independent","y":"independent"}}
},
{"width":128,"height":230,"view":{"stroke":null},
 "data":{"name":"txt"},"transform":[{"filter":"datum.r=='F'"}],
 "encoding":{"x":{"datum":0,"type":"quantitative","scale":{"domain":[0,1]},"axis":null},"y":{"field":"y","type":"quantitative","scale":{"domain":[-0.95,19.95],"nice":false,"zero":false},"axis":null}},
 "layer":[
  {"mark":{"type":"text","align":"left","baseline":"middle","font":"Liberation Sans","fontSize":10.5},"encoding":{"text":{"field":"t"}}},
  {"transform":[{"filter":"datum.k"}],"mark":{"type":"text","align":"left","baseline":"middle","font":"Liberation Sans","fontSize":10.5,"fontWeight":"bold","dx":11.7},"encoding":{"text":{"field":"k"}}}
 ]
},
{"width":176,"height":230,
 "encoding":{"x":{"field":"e","type":"quantitative","scale":{"domain":[683.15,692.55],"reverse":true,"nice":false,"zero":false},"axis":null}},
 "layer":[
  {"data":{"name":"fTR"},"mark":{"type":"area","color":"#a9d59c","interpolate":"monotone"},"encoding":{"y":{"field":"g","type":"quantitative","scale":{"domain":[-0.95,19.95],"nice":false,"zero":false},"axis":null},"y2":{"field":"b"},"detail":{"field":"s"}}},
  {"data":{"name":"fTR"},"mark":{"type":"area","color":"#9c9dd4","interpolate":"monotone"},"encoding":{"y":{"field":"u","type":"quantitative","scale":{"domain":[-0.95,19.95],"nice":false,"zero":false},"axis":null},"y2":{"field":"b"},"detail":{"field":"s"}}},
  {"data":{"name":"fTR"},"mark":{"type":"area","color":"#6781c2","interpolate":"monotone"},"encoding":{"y":{"field":"o","type":"quantitative","scale":{"domain":[-0.95,19.95],"nice":false,"zero":false},"axis":null},"y2":{"field":"b"},"detail":{"field":"s"}}},
  {"data":{"name":"pTR"},"transform":[{"fold":["I","II","III","IV"],"as":["s","v"]}],"mark":{"type":"point","shape":"circle","filled":false,"stroke":"#5f5f5f","strokeWidth":0.8,"size":28,"opacity":1},
   "encoding":{"x":{"field":"e","type":"quantitative","scale":{"domain":[683.15,692.55],"reverse":true,"nice":false,"zero":false},"axis":{"values":[684,686,688,690,692],"title":"Binding Energy / eV","orient":"bottom"}},
   "y":{"field":"v","type":"quantitative","scale":{"domain":[-0.95,19.95],"nice":false,"zero":false},"axis":{"values":[0,2,4,6,8,10,12,14,16,18],"title":null,"orient":"left"}},"detail":{"field":"s"}}},
  {"data":{"name":"fTR"},"mark":{"type":"line","color":"#e4412e","strokeWidth":1.4,"interpolate":"monotone"},
   "encoding":{"x":{"field":"e","type":"quantitative","scale":{"domain":[683.15,692.55],"reverse":true,"nice":false,"zero":false},"axis":{"values":[685,687,689,691],"labels":false,"tickSize":3,"domain":false,"title":null,"orient":"bottom"}},
   "y":{"field":"f","type":"quantitative","scale":{"domain":[-0.95,19.95],"nice":false,"zero":false},"axis":{"values":[1,3,5,7,9,11,13,15,17,19],"labels":false,"tickSize":3,"domain":false,"title":null,"orient":"left"}},"detail":{"field":"s"}}},
  {"data":{"name":"lab"},"transform":[{"filter":"datum.p=='TR' && datum.k=='hd'"}],"mark":{"type":"text","align":"left","baseline":"middle","font":"Liberation Sans","fontWeight":"bold","fontSize":13.5},"encoding":{"y":{"field":"y","type":"quantitative","scale":{"domain":[-0.95,19.95],"nice":false,"zero":false},"axis":null},"text":{"field":"t"}}},
  {"data":{"name":"lab"},"transform":[{"filter":"datum.p=='TR' && datum.k=='rn'"}],"mark":{"type":"text","align":"left","baseline":"middle","font":"Liberation Serif","fontWeight":"bold","fontSize":10.5},"encoding":{"y":{"field":"y","type":"quantitative","scale":{"domain":[-0.95,19.95],"nice":false,"zero":false},"axis":null},"text":{"field":"t"}}},
  {"data":{"name":"lab"},"transform":[{"filter":"datum.p=='TR' && datum.k=='pk'"}],"mark":{"type":"text","align":"left","baseline":"middle","font":"Liberation Sans","fontWeight":"bold","fontSize":11},"encoding":{"y":{"field":"y","type":"quantitative","scale":{"domain":[-0.95,19.95],"nice":false,"zero":false},"axis":null},"text":{"field":"t"}}}
 ],
 "resolve":{"axis":{"x":"independent","y":"independent"}}
},
{"width":176,"height":230,
 "encoding":{"x":{"field":"e","type":"quantitative","scale":{"domain":[282,294.85],"reverse":true,"nice":false,"zero":false},"axis":null}},
 "layer":[
  {"data":{"name":"fBL"},"mark":{"type":"area","color":"#a9d59c","interpolate":"monotone"},"encoding":{"y":{"field":"g","type":"quantitative","scale":{"domain":[-0.3,6.49],"nice":false,"zero":false},"axis":null},"y2":{"field":"b"},"detail":{"field":"s"}}},
  {"data":{"name":"fBL"},"mark":{"type":"area","color":"#f6a19f","interpolate":"monotone"},"encoding":{"y":{"field":"h","type":"quantitative","scale":{"domain":[-0.3,6.49],"nice":false,"zero":false},"axis":null},"y2":{"field":"b"},"detail":{"field":"s"}}},
  {"data":{"name":"fBL"},"mark":{"type":"area","color":"#fcf39c","interpolate":"monotone"},"encoding":{"y":{"field":"a","type":"quantitative","scale":{"domain":[-0.3,6.49],"nice":false,"zero":false},"axis":null},"y2":{"field":"b"},"detail":{"field":"s"}}},
  {"data":{"name":"fBL"},"mark":{"type":"area","color":"#f8a660","interpolate":"monotone"},"encoding":{"y":{"field":"o","type":"quantitative","scale":{"domain":[-0.3,6.49],"nice":false,"zero":false},"axis":null},"y2":{"field":"b"},"detail":{"field":"s"}}},
  {"data":{"name":"pBL"},"transform":[{"fold":["I","II","III","IV"],"as":["s","v"]}],"mark":{"type":"point","shape":"circle","filled":false,"stroke":"#5f5f5f","strokeWidth":0.8,"size":28,"opacity":1},
   "encoding":{"x":{"field":"e","type":"quantitative","scale":{"domain":[282,294.85],"reverse":true,"nice":false,"zero":false},"axis":{"values":[282,284,286,288,290,292,294],"title":"Binding Energy / eV","orient":"bottom"}},
   "y":{"field":"v","type":"quantitative","scale":{"domain":[-0.3,6.49],"nice":false,"zero":false},"axis":{"values":[0,2,4,6],"title":"Intensity / kcps","orient":"left"}},"detail":{"field":"s"}}},
  {"data":{"name":"fBL"},"mark":{"type":"line","color":"#e4412e","strokeWidth":1.4,"interpolate":"monotone"},
   "encoding":{"x":{"field":"e","type":"quantitative","scale":{"domain":[282,294.85],"reverse":true,"nice":false,"zero":false},"axis":{"values":[283,285,287,289,291,293],"labels":false,"tickSize":3,"domain":false,"title":null,"orient":"bottom"}},
   "y":{"field":"f","type":"quantitative","scale":{"domain":[-0.3,6.49],"nice":false,"zero":false},"axis":{"values":[1,3,5],"labels":false,"tickSize":3,"domain":false,"title":null,"orient":"left"}},"detail":{"field":"s"}}},
  {"data":{"name":"lab"},"transform":[{"filter":"datum.p=='BL' && datum.k=='hd'"}],"mark":{"type":"text","align":"left","baseline":"middle","font":"Liberation Sans","fontWeight":"bold","fontSize":13.5},"encoding":{"y":{"field":"y","type":"quantitative","scale":{"domain":[-0.3,6.49],"nice":false,"zero":false},"axis":null},"text":{"field":"t"}}},
  {"data":{"name":"lab"},"transform":[{"filter":"datum.p=='BL' && datum.k=='rn'"}],"mark":{"type":"text","align":"left","baseline":"middle","font":"Liberation Serif","fontWeight":"bold","fontSize":10.5},"encoding":{"y":{"field":"y","type":"quantitative","scale":{"domain":[-0.3,6.49],"nice":false,"zero":false},"axis":null},"text":{"field":"t"}}},
  {"data":{"name":"lab"},"transform":[{"filter":"datum.p=='BL' && datum.k=='c'"}],"mark":{"type":"text","align":"left","baseline":"middle","font":"Liberation Sans","fontWeight":"bold","fontSize":11.5},"encoding":{"y":{"field":"y","type":"quantitative","scale":{"domain":[-0.3,6.49],"nice":false,"zero":false},"axis":null},"text":{"field":"t"}}},
  {"data":{"name":"lab"},"transform":[{"filter":"datum.p=='BL' && datum.k=='c'"}],"mark":{"type":"text","align":"left","baseline":"middle","font":"Liberation Sans","fontWeight":"bold","fontSize":6.5,"dx":8.8,"dy":4},"encoding":{"y":{"field":"y","type":"quantitative","scale":{"domain":[-0.3,6.49],"nice":false,"zero":false},"axis":null},"text":{"field":"sub"}}}
 ],
 "resolve":{"axis":{"x":"independent","y":"independent"}}
},
{"width":128,"height":230,"view":{"stroke":null},
 "data":{"name":"txt"},"transform":[{"filter":"datum.r=='C'"}],
 "encoding":{"x":{"datum":0,"type":"quantitative","scale":{"domain":[0,1]},"axis":null},"y":{"field":"y","type":"quantitative","scale":{"domain":[-0.3,6.49],"nice":false,"zero":false},"axis":null}},
 "layer":[
  {"mark":{"type":"text","align":"left","baseline":"middle","font":"Liberation Sans","fontSize":10.5},"encoding":{"text":{"field":"t"}}},
  {"transform":[{"filter":"datum.k"}],"mark":{"type":"text","align":"left","baseline":"middle","font":"Liberation Sans","fontSize":10.5,"fontWeight":"bold","dx":11.7},"encoding":{"text":{"field":"k"}}}
 ]
},
{"width":176,"height":230,
 "encoding":{"x":{"field":"e","type":"quantitative","scale":{"domain":[282,294.85],"reverse":true,"nice":false,"zero":false},"axis":null}},
 "layer":[
  {"data":{"name":"fBR"},"mark":{"type":"area","color":"#a9d59c","interpolate":"monotone"},"encoding":{"y":{"field":"g","type":"quantitative","scale":{"domain":[-0.3,6.49],"nice":false,"zero":false},"axis":null},"y2":{"field":"b"},"detail":{"field":"s"}}},
  {"data":{"name":"fBR"},"mark":{"type":"area","color":"#f6a19f","interpolate":"monotone"},"encoding":{"y":{"field":"h","type":"quantitative","scale":{"domain":[-0.3,6.49],"nice":false,"zero":false},"axis":null},"y2":{"field":"b"},"detail":{"field":"s"}}},
  {"data":{"name":"fBR"},"mark":{"type":"area","color":"#fcf39c","interpolate":"monotone"},"encoding":{"y":{"field":"a","type":"quantitative","scale":{"domain":[-0.3,6.49],"nice":false,"zero":false},"axis":null},"y2":{"field":"b"},"detail":{"field":"s"}}},
  {"data":{"name":"fBR"},"mark":{"type":"area","color":"#f8a660","interpolate":"monotone"},"encoding":{"y":{"field":"o","type":"quantitative","scale":{"domain":[-0.3,6.49],"nice":false,"zero":false},"axis":null},"y2":{"field":"b"},"detail":{"field":"s"}}},
  {"data":{"name":"pBR"},"transform":[{"fold":["I","II","III","IV"],"as":["s","v"]}],"mark":{"type":"point","shape":"circle","filled":false,"stroke":"#5f5f5f","strokeWidth":0.8,"size":28,"opacity":1},
   "encoding":{"x":{"field":"e","type":"quantitative","scale":{"domain":[282,294.85],"reverse":true,"nice":false,"zero":false},"axis":{"values":[282,284,286,288,290,292,294],"title":"Binding Energy / eV","orient":"bottom"}},
   "y":{"field":"v","type":"quantitative","scale":{"domain":[-0.3,6.49],"nice":false,"zero":false},"axis":{"values":[0,2,4,6],"title":null,"orient":"left"}},"detail":{"field":"s"}}},
  {"data":{"name":"fBR"},"mark":{"type":"line","color":"#e4412e","strokeWidth":1.4,"interpolate":"monotone"},
   "encoding":{"x":{"field":"e","type":"quantitative","scale":{"domain":[282,294.85],"reverse":true,"nice":false,"zero":false},"axis":{"values":[283,285,287,289,291,293],"labels":false,"tickSize":3,"domain":false,"title":null,"orient":"bottom"}},
   "y":{"field":"f","type":"quantitative","scale":{"domain":[-0.3,6.49],"nice":false,"zero":false},"axis":{"values":[1,3,5],"labels":false,"tickSize":3,"domain":false,"title":null,"orient":"left"}},"detail":{"field":"s"}}},
  {"data":{"name":"lab"},"transform":[{"filter":"datum.p=='BR' && datum.k=='hd'"}],"mark":{"type":"text","align":"left","baseline":"middle","font":"Liberation Sans","fontWeight":"bold","fontSize":13.5},"encoding":{"y":{"field":"y","type":"quantitative","scale":{"domain":[-0.3,6.49],"nice":false,"zero":false},"axis":null},"text":{"field":"t"}}},
  {"data":{"name":"lab"},"transform":[{"filter":"datum.p=='BR' && datum.k=='rn'"}],"mark":{"type":"text","align":"left","baseline":"middle","font":"Liberation Serif","fontWeight":"bold","fontSize":10.5},"encoding":{"y":{"field":"y","type":"quantitative","scale":{"domain":[-0.3,6.49],"nice":false,"zero":false},"axis":null},"text":{"field":"t"}}},
  {"data":{"name":"lab"},"transform":[{"filter":"datum.p=='BR' && datum.k=='c'"}],"mark":{"type":"text","align":"left","baseline":"middle","font":"Liberation Sans","fontWeight":"bold","fontSize":11.5},"encoding":{"y":{"field":"y","type":"quantitative","scale":{"domain":[-0.3,6.49],"nice":false,"zero":false},"axis":null},"text":{"field":"t"}}},
  {"data":{"name":"lab"},"transform":[{"filter":"datum.p=='BR' && datum.k=='c'"}],"mark":{"type":"text","align":"left","baseline":"middle","font":"Liberation Sans","fontWeight":"bold","fontSize":6.5,"dx":8.8,"dy":4},"encoding":{"y":{"field":"y","type":"quantitative","scale":{"domain":[-0.3,6.49],"nice":false,"zero":false},"axis":null},"text":{"field":"sub"}}}
 ],
 "resolve":{"axis":{"x":"independent","y":"independent"}}
}
]
}
